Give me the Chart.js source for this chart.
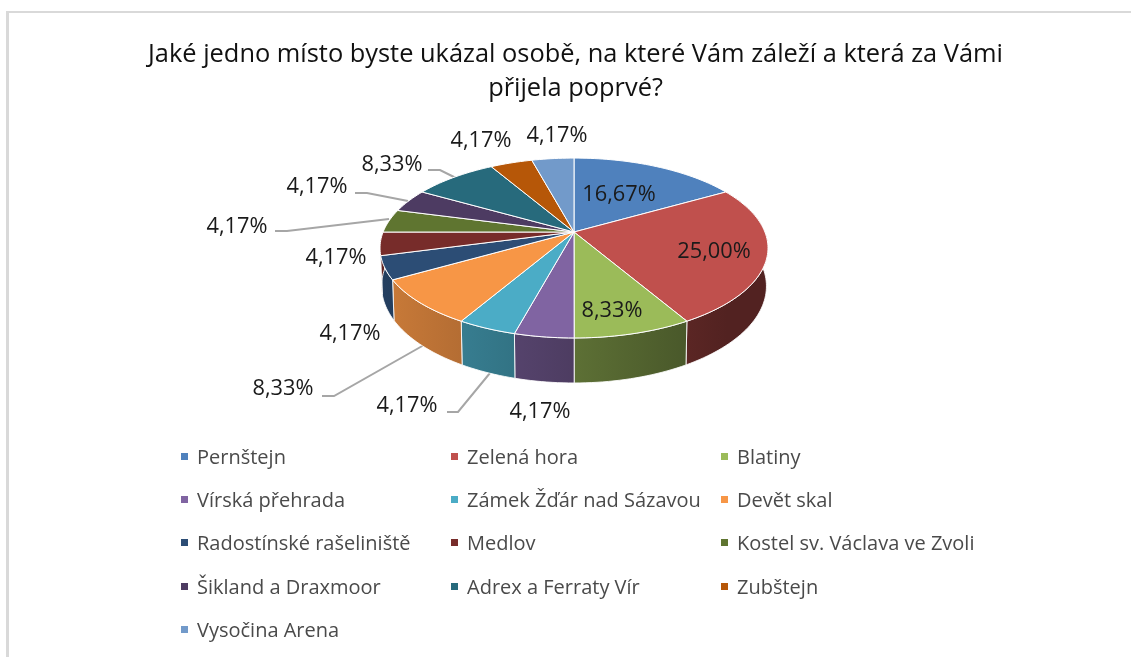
<!DOCTYPE html>
<html>
<head>
<meta charset="utf-8">
<script src="https://cdn.jsdelivr.net/npm/chart.js@4/dist/chart.umd.min.js"></script>
<style>
html, body { margin: 0; padding: 0; background: #fff; overflow: hidden; }
#wrap { position: relative; width: 1131px; height: 657px; }
#frame { position: absolute; left: 6px; top: 11px; right: 0; bottom: 0; border-left: 3px solid #d9d9d9; border-top: 2px solid #d9d9d9; }
canvas { position: absolute; left: 0; top: 0; }
</style>
</head>
<body>
<div id="wrap">
<div id="frame"></div>
<canvas id="pie" width="1131" height="657"></canvas>
</div>
<script>
var titleLines = ['Jaké jedno místo byste ukázal osobě, na které Vám záleží a která za Vámi', 'přijela poprvé?'];
var places = ['Pernštejn', 'Zelená hora', 'Blatiny', 'Vírská přehrada', 'Zámek Žďár nad Sázavou', 'Devět skal',
    'Radostínské rašeliniště', 'Medlov', 'Kostel sv. Václava ve Zvoli', 'Šikland a Draxmoor', 'Adrex a Ferraty Vír', 'Zubštejn', 'Vysočina Arena'];
var percents = [16.67, 25.00, 8.33, 4.17, 4.17, 8.33, 4.17, 4.17, 4.17, 4.17, 8.33, 4.17, 4.17];
var colors = ['#4f81bd', '#c0504d', '#9bbb59', '#8064a2', '#4bacc6', '#f79646', '#2c4d75', '#772c2a', '#5f7530', '#4d3b62', '#276a7c', '#b65708', '#729aca'];

// where the value labels sit, same order as places
var labelSpots = [[619, 195], [714, 252], [612, 311], [540, 412], [407, 406], [283, 389], [350, 334], [336, 258], [237, 227], [317, 187], [392, 165], [481, 141], [557, 136]];
var leaders = [
    [[428, 170], [440, 170], [456, 178]],
    [[355, 193], [367, 193], [408, 201]],
    [[275, 231], [287, 231], [389, 219]],
    [[322, 396], [334, 396], [424, 345]],
    [[447, 412], [458, 412], [490, 373]]
];
var legendCols = [181, 451, 721];
var legendRows = [458, 501, 544, 588, 631];

// tilted disc: perspective view of the unit circle
var cx = 574, cy = 232, sx = 190.9, sy = 87.1, tilt = 0.178, depth = 37;

function project(a, r, down) {
    var u = Math.cos(a) * r, v = Math.sin(a) * r;
    var w = 1 - tilt * v;
    return {
        x: cx + (down ? 0.992 : 1) * sx * u / w,
        y: cy + sy * v / w + (down ? depth / w : 0)
    };
}

function shade(hex, f) {
    var n = parseInt(hex.slice(1), 16);
    return 'rgb(' + Math.round((n >> 16 & 255) * f) + ',' + Math.round((n >> 8 & 255) * f) + ',' + Math.round((n & 255) * f) + ')';
}

function rimPoints(arc, down) {
    var pts = [], steps = Math.max(4, Math.ceil((arc.endAngle - arc.startAngle) * 40));
    for (var i = 0; i <= steps; i++) {
        pts.push(project(arc.startAngle + (arc.endAngle - arc.startAngle) * i / steps, 1, down));
    }
    return pts;
}

function tracePts(ctx, pts, first) {
    pts.forEach(function (p, i) {
        if (i === 0 && first) ctx.moveTo(p.x, p.y); else ctx.lineTo(p.x, p.y);
    });
}

var pie3d = {
    id: 'pie3d',
    // the flat arcs are replaced by the tilted ones, built from the same element angles
    beforeDatasetsDraw: function (chart) {
        var ctx = chart.ctx;
        var arcs = chart.getDatasetMeta(0).data;

        ctx.save();
        ctx.strokeStyle = '#a6a6a6';
        ctx.lineWidth = 2;
        leaders.forEach(function (line) {
            ctx.beginPath();
            line.forEach(function (p, i) {
                if (i === 0) ctx.moveTo(p[0], p[1]); else ctx.lineTo(p[0], p[1]);
            });
            ctx.stroke();
        });

        arcs.forEach(function (arc, i) {
            var top = rimPoints(arc, false), bottom = rimPoints(arc, true);
            if (Math.sin(arc.endAngle) < -0.2 && Math.sin(arc.startAngle) < -0.2) return;
            var x0 = top[0].x, x1 = top[top.length - 1].x;
            var g = ctx.createLinearGradient(Math.min(x0, x1), 0, Math.max(x0, x1) + 1, 0);
            g.addColorStop(0, shade(colors[i], 0.6 - 0.22 * (Math.min(x0, x1) - cx) / 194));
            g.addColorStop(1, shade(colors[i], 0.6 - 0.22 * (Math.max(x0, x1) - cx) / 194));
            ctx.beginPath();
            tracePts(ctx, top, true);
            tracePts(ctx, bottom.reverse(), false);
            ctx.closePath();
            ctx.fillStyle = g;
            ctx.fill();
            ctx.strokeStyle = 'rgba(255,255,255,0.85)';
            ctx.lineWidth = 1;
            ctx.stroke();
        });

        arcs.forEach(function (arc) {
            ctx.beginPath();
            ctx.moveTo(cx, cy);
            tracePts(ctx, rimPoints(arc, false), false);
            ctx.closePath();
            ctx.fillStyle = arc.options.backgroundColor;
            ctx.fill();
            ctx.strokeStyle = arc.options.borderColor;
            ctx.lineWidth = arc.options.borderWidth;
            ctx.stroke();
        });

        // value labels
        ctx.font = '21.8px "Open Sans"';
        ctx.textAlign = 'center';
        ctx.textBaseline = 'middle';
        ctx.fillStyle = '#1a1a1a';
        percents.forEach(function (p, i) {
            ctx.fillText(p.toFixed(2).replace('.', ',') + '%', labelSpots[i][0], labelSpots[i][1]);
        });

        // 3 column legend, the built in one cannot do a grid
        var items = Chart.overrides.pie.plugins.legend.labels.generateLabels(chart);
        ctx.font = '20px "Open Sans"';
        ctx.textAlign = 'left';
        items.forEach(function (item, i) {
            var x = legendCols[i % 3], y = legendRows[Math.floor(i / 3)];
            ctx.fillStyle = item.fillStyle;
            ctx.fillRect(x, y - 5, 7, 7);
            ctx.fillStyle = '#4a4a4a';
            ctx.fillText(item.text, x + 16, y);
        });
        ctx.restore();
        return false;
    }
};

new Chart(document.getElementById('pie'), {
    type: 'pie',
    data: {
        labels: places,
        datasets: [{
            data: percents,
            backgroundColor: colors,
            borderColor: '#ffffff',
            borderWidth: 1
        }]
    },
    options: {
        responsive: false,
        animation: false,
        layout: { padding: { top: 0, left: 20 } },
        plugins: {
            legend: { display: false },
            tooltip: { enabled: false },
            title: {
                display: true,
                text: titleLines,
                color: '#111111',
                font: { family: '"Open Sans"', size: 25.4, weight: 'normal', lineHeight: 1.34 },
                padding: { top: 38, bottom: 0 }
            }
        }
    },
    plugins: [pie3d]
});
</script>
</body>
</html>
